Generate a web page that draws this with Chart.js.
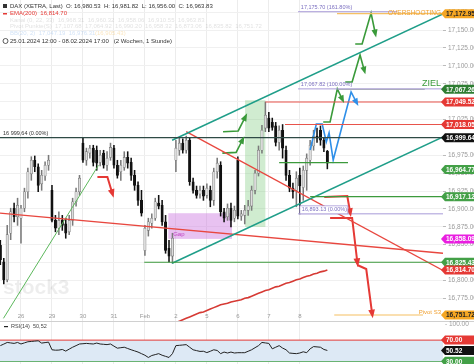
<!DOCTYPE html>
<html>
<head>
<meta charset="utf-8">
<script src="https://cdn.jsdelivr.net/npm/chart.js@4.4.1/dist/chart.umd.min.js"></script>
<style>
html, body { margin: 0; padding: 0; background: #fff; }
#wrap { position: relative; width: 474px; height: 364px; overflow: hidden; }
#main { position: absolute; left: 0; top: 0; }
#rsi { position: absolute; left: 0; top: 321px; }
</style>
</head>
<body>
<div id="wrap">
  <canvas id="main" width="474" height="321"></canvas>
  <canvas id="rsi" width="474" height="43"></canvas>
</div>
<script>
// DAX (XETRA) hourly candles, index 0 = 25.01.2024 12:00, 9 bars per session
const dayStarts = [6, 15, 24, 33, 42, 51, 60, 69, 78, 87];
const dayLabels = ['26', '29', '30', '31', 'Feb', '2', '5', '6', '7', '8'];
const priceTicks = [16775, 16800, 16825, 16850, 16875, 16900, 16925, 16950, 16975, 17000,
                    17025, 17050, 17075, 17100, 17125, 17150, 17175];

const opens = [16849,16826,16801,16866,16901,16889,
  16887,16901,16924,16949,16968,16959,16935,16946,16961,
  16926,16884,16873,16884,16879,16868,16884,16910,16924,
  16992,16968,16978,16985,16982,16965,16978,16961,16972,
  16985,16961,16952,16958,16972,16965,16947,16933,16912,
  16842,16870,16880,16887,16908,16905,16882,16845,16834,
  16968,16982,16992,16982,16996,16938,16926,16921,16926,
  16919,16926,16912,16952,16961,16896,16889,16901,16887,
  16968,16890,16891,16898,16904,16926,16950,16982,17013,
  17027,17021,17016,16993,17010,16982,16947,16929,16926,
  16947,16930,16954,16968,16988,17002,17010,16996,16980.53];
const highs = [16856,16831,16877,16901,16908,16915,
  16905,16929,16957,16973,16974,16963,16954,16966,16975,
  16933,16891,16896,16891,16887,16891,16915,16929,16947,
  16999,16985,16989,16989,16988,16982,16982,16980,16992,
  16989,16968,16968,16980,16980,16971,16954,16938,16926,
  16877,16887,16893,16915,16919,16912,16891,16856,16866,
  16996,16999,16998,17002,17000,16943,16932,16932,16932,
  16935,16932,16957,16971,16966,16901,16907,16908,16904,
  16973,16898,16905,16912,16932,16954,16988,17017,17049.5,
  17035,17027,17021,17016,17018,16988,16954,16936,16952,
  16957,16960,16977,16996,17010,17013,17016,17000,16981.82];
const lows = [16822,16795,16798,16857,16882,16877,
  16852,16896,16915,16940,16952,16924,16926,16940,16954,
  16882,16868,16864,16870,16859,16864,16877,16904,16919,
  16965,16961,16971,16960,16954,16960,16957,16954,16968,
  16957,16943,16940,16954,16957,16940,16926,16905,16890,
  16835,16862,16873,16884,16900,16877,16838,16826,16824,
  16952,16975,16978,16978,16933,16922,16915,16915,16912,
  16915,16903,16905,16943,16890,16882,16884,16875,16882,
  16886,16884,16879,16891,16898,16921,16946,16978,17008,
  17008,17010,16988,16982,16971,16940,16924,16915,16903,
  16893.1,16912,16926,16961,16982,16993,16989,16980,16956];
const closes = [16829,16801,16864,16896,16889,16905,
  16901,16924,16952,16968,16959,16933,16947,16961,16968,
  16884,16873,16884,16877,16866,16884,16910,16924,16943,
  16968,16980,16985,16965,16964,16975,16961,16971,16986,
  16961,16947,16961,16972,16964,16947,16933,16912,16894,
  16873,16882,16887,16910,16904,16882,16842,16834,16859,
  16985,16992,16982,16996,16938,16926,16919,16926,16918,
  16929,16912,16952,16964,16896,16887,16901,16884,16898,
  16890,16893,16898,16904,16926,16950,16982,17010,17031,
  17013,17014,16993,17010,16985,16947,16929,16924,16943,
  16932,16954,16971,16989,17002,16999,16996,16985,16963.83];

// EMA(200), visible from 1 Feb on
const emaStart = 50;
const emaValues = [16738,16741,16743,16745,16747,16749,16751,16753,16755,16756,
  16758,16760,16762,16764,16766,16767,16768,16770,16771,16772,
  16773,16775,16776,16778,16780,16782,16784,16786,16787,16789,
  16791,16792,16794,16796,16797,16799,16801,16802,16804,16806,
  16807,16809,16810,16812,16813,16814.7];

const rsiValues = [59.6,62.5,65.6,64.7,63.8,65.6,62.7,64.8,66.9,67.5,68.1,68.7,64.4,65.3,66.2,
  51.8,51.0,51.2,52.4,49.3,53.0,56.6,59.6,62.7,
  63.2,63.8,63.2,62.7,64.4,62.7,62.1,61.5,62.7,
  58.7,54.8,55.7,56.6,54.2,51.8,49.7,47.5,44.5,
  41.5,37.3,41.0,42.7,44.5,41.5,39.4,37.3,44.5,
  59.6,60.2,60.8,61.5,56.6,51.8,50.2,48.7,49.0,
  46.5,49.0,51.8,50.5,44.5,47.5,45.7,47.5,45.7,
  46.3,46.3,46.3,49.0,51.8,55.7,59.6,65.6,64.7,
  63.8,53.6,56.6,59.6,55.0,51.8,45.7,45.0,44.5,
  45.7,48.0,46.3,53.6,57.8,57.2,56.6,52.4,50.52];

// drawn lines: [bar index, price]
const xMin = -0.1, xMax = 128.6;
const channelUpper = [[49.9, 16996], [128.6, 17172.5]];
const channelLower = [[49.9, 16824], [128.6, 17000.5]];
const redFlat = [[-0.1, 16894], [128.6, 16838]];
const redSteep = [[54, 17008], [128.6, 16814]];
const greenUp = [[0.9, 16747], [28.5, 16961]];

const fibZero = 16893.13, fibFull = 17067.82, fibExt = 17175.70;
const ziel = 17067.26, overshoot = 17172.95, pivotS3 = 16751.72;
const keyLevel = 16999.64;
const redLevels = [17049.52, 17018.05];
const supportShort = 16964.77, supportA = 16917.12, supportB = 16825.43;

const arrowsGreen = [
  [[64.7, 17008], [69.1, 17009], [71.1, 17028]],
  [[64.5, 16978], [68.5, 16979], [70.3, 16996]],
  [[93.8, 17021.5], [95.8, 17021.5], [97.9, 17067.7], [99.3, 17053.7]],
  [[100.2, 17077.5], [102.2, 17077.5], [104.5, 17115.2], [105.7, 17094.2]],
  [[103.1, 17130.6], [105.1, 17130.6], [107.7, 17173.9], [108.9, 17146.0]]
];
const arrowBlue = [[90.0, 16982.4], [91.8, 17018.8], [93.5, 17018.8], [94.7, 16993.6],
  [95.5, 17006.2], [96.7, 16968.4], [101.9, 17063.5], [103.4, 17049.5]];
const arrowsRed = [
  [[28.2, 16944.7], [31.1, 16944.7], [32.5, 16922.3]],
  [[94.1, 16916.7], [100.8, 16918.1], [101.6, 16895.7]],
  [[95.8, 16887.3], [102.2, 16887.3], [103.7, 16825.8]],
  [[103.7, 16821.6], [106.3, 16816], [108.0, 16754]]
];

const FONT = '"Liberation Sans", Arial, sans-serif';

function pts(list) { return list.map(p => ({ x: p[0], y: p[1] })); }
function line(list, color, width, extra) {
  return Object.assign({
    type: 'line', data: pts(list), borderColor: color, borderWidth: width,
    pointRadius: 0, tension: 0, fill: false, order: 1
  }, extra || {});
}
function level(v, from, to, color, width) { return line([[from, v], [to, v]], color, width || 1); }
function fmt(v) { return v.toLocaleString('en-US', { minimumFractionDigits: 2, maximumFractionDigits: 2 }); }

const datasets = [
  level(keyLevel, xMin, xMax, '#2e4a45', 1.4),
  level(fibExt, 86.5, 115.3, '#a89ad8', 1),
  level(fibFull, 86.5, xMax, '#a89ad8', 1),
  level(fibZero, 86.5, xMax, '#a89ad8', 1),
  level(ziel, 98, 123.3, '#9aa59a', 1),
  level(overshoot, 97.8, xMax, '#f5c063', 1.2),
  level(pivotS3, 97, 122.8, '#f5c063', 1.2),
  level(redLevels[0], 77, xMax, '#e8534b', 1.2),
  level(redLevels[1], 82.7, xMax, '#e8534b', 1.2),
  level(supportShort, 81, 101, '#3c9a3c', 1.2),
  level(supportA, 90, xMax, '#3c9a3c', 1.2),
  level(supportB, 41.8, xMax, '#3c9a3c', 1.2),
  line(channelUpper, '#1f9e89', 1.5),
  line(channelLower, '#1f9e89', 1.5),
  line(redFlat, '#e8473f', 1.3),
  line(redSteep, '#e8473f', 1.3),
  line(greenUp, '#5cb85c', 1),
  line(emaValues.map((v, k) => [emaStart + k, v]), '#d63a34', 1.6)
];
arrowsGreen.forEach(a => datasets.push(line(a, '#3a9a3a', 1.6, { arrowHead: 4.5 })));
datasets.push(line(arrowBlue, '#2f8fe8', 1.6, { arrowHead: 4.5 }));
arrowsRed.forEach(a => datasets.push(line(a, '#e53935', 2, { arrowHead: 5 })));

// candles: bodies over wicks
datasets.push({
  type: 'bar', order: 2, grouped: false, barThickness: 2.4, borderSkipped: false,
  data: opens.map((o, i) => ({ x: i, y: [o, closes[i]] })),
  backgroundColor: opens.map((o, i) => closes[i] >= o ? '#dcdcdc' : '#111'),
  borderColor: opens.map((o, i) => closes[i] >= o ? '#7a7a7a' : '#111'),
  borderWidth: 0.6
});
datasets.push({
  type: 'bar', order: 3, grouped: false, barThickness: 0.9,
  data: lows.map((l, i) => ({ x: i, y: [l, highs[i]] })),
  backgroundColor: opens.map((o, i) => closes[i] >= o ? '#7a7a7a' : '#111')
});

const badgesMain = [
  { v: overshoot, t: '17,172.95', bg: '#f5a623', fg: '#222' },
  { v: ziel, t: '17,067.26', bg: '#2e7d32', fg: '#fff' },
  { v: redLevels[0], t: '17,049.52', bg: '#e53935', fg: '#fff' },
  { v: redLevels[1], t: '17,018.05', bg: '#e53935', fg: '#fff' },
  { v: keyLevel, t: '16,999.64', bg: '#111', fg: '#fff' },
  { v: supportShort, t: '16,964.77', bg: '#43a047', fg: '#fff', dy: 7 },
  { v: supportA, t: '16,917.12', bg: '#43a047', fg: '#fff' },
  { v: 16858.09, t: '16,858.09', bg: '#e91ee0', fg: '#fff' },
  { v: supportB, t: '16,825.43', bg: '#43a047', fg: '#fff' },
  { v: 16814.70, t: '16,814.70', bg: '#e53935', fg: '#fff' },
  { v: pivotS3, t: '16,751.72', bg: '#f5a623', fg: '#222' }
];

function drawBadge(ctx, y, b) {
  ctx.fillStyle = b.bg;
  ctx.beginPath();
  ctx.moveTo(441, y);
  ctx.lineTo(445, y - 4.5);
  ctx.lineTo(474, y - 4.5);
  ctx.lineTo(474, y + 4.5);
  ctx.lineTo(445, y + 4.5);
  ctx.closePath();
  ctx.fill();
  ctx.fillStyle = b.fg;
  ctx.font = 'bold 6.5px ' + FONT;
  ctx.textAlign = 'left';
  ctx.textBaseline = 'middle';
  ctx.fillText(b.t, 446, y + 0.5);
}

function text(ctx, s, x, y, color, size, align, weight) {
  ctx.fillStyle = color;
  ctx.font = (weight || '') + ' ' + size + 'px ' + FONT;
  ctx.textAlign = align || 'left';
  ctx.textBaseline = 'middle';
  ctx.fillText(s, x, y);
}

const zonesPlugin = {
  id: 'zones',
  beforeDatasetsDraw(chart) {
    const { ctx, scales: { x, y } } = chart;
    ctx.save();
    // watermark
    text(ctx, 'stock3', 3, 288, 'rgba(0,0,0,0.07)', 21, 'left', 'bold');
    // gap box
    ctx.fillStyle = 'rgba(205,120,225,0.45)';
    let x0 = x.getPixelForValue(48.8), x1 = x.getPixelForValue(67.3);
    let y0 = y.getPixelForValue(16894), y1 = y.getPixelForValue(16858.09);
    ctx.fillRect(x0, y0, x1 - x0, y1 - y0);
    // rally zone
    ctx.fillStyle = 'rgba(120,200,120,0.35)';
    x0 = x.getPixelForValue(71.1); x1 = x.getPixelForValue(77);
    y0 = y.getPixelForValue(17052); y1 = y.getPixelForValue(16874.8);
    ctx.fillRect(x0, y0, x1 - x0, y1 - y0);
    ctx.restore();
  },
  afterDatasetsDraw(chart) {
    const { ctx, scales: { x, y } } = chart;
    ctx.save();
    // arrow heads
    chart.data.datasets.forEach((ds, i) => {
      if (!ds.arrowHead) return;
      const p = chart.getDatasetMeta(i).data;
      const a = p[p.length - 2], b = p[p.length - 1];
      const ang = Math.atan2(b.y - a.y, b.x - a.x), s = ds.arrowHead;
      ctx.fillStyle = ds.borderColor;
      ctx.beginPath();
      ctx.moveTo(b.x + Math.cos(ang) * s, b.y + Math.sin(ang) * s);
      ctx.lineTo(b.x + Math.cos(ang + 2.4) * s, b.y + Math.sin(ang + 2.4) * s);
      ctx.lineTo(b.x + Math.cos(ang - 2.4) * s, b.y + Math.sin(ang - 2.4) * s);
      ctx.closePath();
      ctx.fill();
    });
    const fibX = x.getPixelForValue(87.3);
    text(ctx, '17,175.70 (161.80%)', fibX, y.getPixelForValue(fibExt) - 4, '#7b6fc0', 5.5);
    text(ctx, '17,067.82 (100.00%)', fibX, y.getPixelForValue(fibFull) - 4, '#7b6fc0', 5.5);
    const fy = y.getPixelForValue(fibZero) - 4;
    ctx.fillStyle = '#fff';
    ctx.fillRect(fibX - 1, fy - 4, 48, 8);
    ctx.strokeStyle = '#a89ad8';
    ctx.lineWidth = 0.8;
    ctx.strokeRect(fibX - 1, fy - 4, 48, 8);
    text(ctx, '16,893.13 (0.00%)', fibX + 1, fy, '#7b6fc0', 5.5);
    text(ctx, 'OVERSHOOTING', 441, y.getPixelForValue(fibExt) + 1, '#f0a030', 6.5, 'right');
    text(ctx, 'ZIEL', 441, y.getPixelForValue(ziel) - 6, '#3a9a3a', 9, 'right');
    text(ctx, 'Pivot S3', 441, y.getPixelForValue(pivotS3) - 3, '#f0a030', 6, 'right');
    text(ctx, 'Gap', x.getPixelForValue(50.2), y.getPixelForValue(16862) - 2, '#c040c0', 6);
    text(ctx, '16 999,64 (0.00%)', 3, y.getPixelForValue(keyLevel) - 4, '#333', 5.5);
    dayStarts.forEach((d, k) => text(ctx, dayLabels[k], x.getPixelForValue(d), 316, '#999', 6, 'center'));
    ctx.restore();
  },
  afterDraw(chart) {
    const { ctx, scales: { y } } = chart;
    ctx.save();
    badgesMain.forEach(b => drawBadge(ctx, y.getPixelForValue(b.v) + (b.dy || 0), b));
    // header
    text(ctx, 'DAX (XETRA, Last)  O: 16,980.53  H: 16,981.82  L: 16,956.00  C: 16,963.83', 10, 6, '#333', 6);
    ctx.fillStyle = '#333'; ctx.fillRect(3, 4, 4, 4);
    ctx.fillStyle = '#e53935'; ctx.fillRect(3, 13, 4, 1.5);
    text(ctx, 'EMA(200)  16,814.70', 10, 13.5, '#e53935', 6);
    text(ctx, 'Kanal (0, 22, 33)  16,968.31  16,960.32  16,958.06  16,910.55  16,963.83', 10, 20, 'rgba(120,120,120,0.22)', 6);
    text(ctx, 'Pivot Punkte(S)  17,107.68  17,064.92  16,990.20  16,958.32  16,873.06  16,835.82  16,751.72', 10, 26.5, 'rgba(120,120,120,0.22)', 6);
    text(ctx, 'BB(20, 2)  17,047.19  16,976.31', 10, 33, 'rgba(70,140,220,0.25)', 6);
    text(ctx, '(16,905.43)', 95, 33, 'rgba(240,170,40,0.3)', 6);
    ctx.strokeStyle = '#333'; ctx.lineWidth = 0.8;
    ctx.beginPath(); ctx.arc(5.5, 41, 2.5, 0, Math.PI * 2); ctx.stroke();
    text(ctx, '25.01.2024 12:00 - 08.02.2024 17:00   (2 Wochen, 1 Stunde)', 10, 41, '#333', 6);
    ctx.restore();
  }
};

const xScale = {
  type: 'linear', min: xMin, max: xMax, offset: false,
  grid: { color: '#ececec', drawTicks: false, offset: false },
  border: { display: false },
  ticks: { display: false },
  afterBuildTicks: s => { s.ticks = dayStarts.map(v => ({ value: v })); },
  afterFit: s => { s.height = 0; s.paddingLeft = 0; s.paddingRight = 0; }
};

new Chart(document.getElementById('main'), {
  type: 'bar',
  data: { datasets: datasets },
  options: {
    responsive: false, animation: false,
    layout: { padding: 0 },
    plugins: { legend: { display: false }, tooltip: { enabled: false } },
    scales: {
      x: xScale,
      y: {
        type: 'linear', position: 'right', min: 16743.3, max: 17192.1,
        grid: { color: '#f0f0f0', tickLength: 3, tickColor: '#bbb' },
        border: { display: false },
        ticks: { color: '#9a9a9a', font: { size: 6.5, family: FONT }, padding: 2, callback: v => fmt(v) },
        afterBuildTicks: s => { s.ticks = priceTicks.map(v => ({ value: v })); },
        afterFit: s => { s.width = 31; s.paddingTop = 0; s.paddingBottom = 0; }
      }
    }
  },
  plugins: [zonesPlugin]
});

const badgesRsi = [
  { v: 70, t: '70.00', bg: '#e53935', fg: '#fff' },
  { v: 50.52, t: '50.52', bg: '#111', fg: '#fff' },
  { v: 30, t: '30.00', bg: '#43a047', fg: '#fff' }
];

new Chart(document.getElementById('rsi'), {
  type: 'line',
  data: {
    datasets: [
      { data: rsiValues.map((v, i) => ({ x: i, y: v })), borderColor: '#222', borderWidth: 1, pointRadius: 0, tension: 0, fill: false },
      { data: [{ x: xMin, y: 70 }, { x: xMax, y: 70 }], borderColor: '#e53935', borderWidth: 1, pointRadius: 0, fill: '+1', backgroundColor: '#dde9f5' },
      { data: [{ x: xMin, y: 30 }, { x: xMax, y: 30 }], borderColor: '#43a047', borderWidth: 1.2, pointRadius: 0, fill: false }
    ]
  },
  options: {
    responsive: false, animation: false,
    layout: { padding: 0 },
    plugins: { legend: { display: false }, tooltip: { enabled: false } },
    scales: {
      x: Object.assign({}, xScale),
      y: {
        type: 'linear', position: 'right', min: 25, max: 106,
        grid: { display: false }, border: { display: false },
        ticks: { display: false },
        afterFit: s => { s.width = 31; s.paddingTop = 0; s.paddingBottom = 0; }
      }
    }
  },
  plugins: [{
    id: 'rsiDeco',
    afterDraw(chart) {
      const { ctx, scales: { y } } = chart;
      ctx.save();
      ctx.strokeStyle = '#d0d0d0'; ctx.lineWidth = 1;
      ctx.beginPath(); ctx.moveTo(0, 0.5); ctx.lineTo(474, 0.5); ctx.stroke();
      ctx.fillStyle = '#222'; ctx.fillRect(4, 5, 4, 1.2);
      text(ctx, 'RSI(14)  50,52', 11, 5.5, '#444', 5.5);
      text(ctx, '- 100.00', 445, y.getPixelForValue(100), '#9a9a9a', 6.5);
      badgesRsi.forEach(b => drawBadge(ctx, y.getPixelForValue(b.v), b));
      ctx.restore();
    }
  }]
});
</script>
</body>
</html>
